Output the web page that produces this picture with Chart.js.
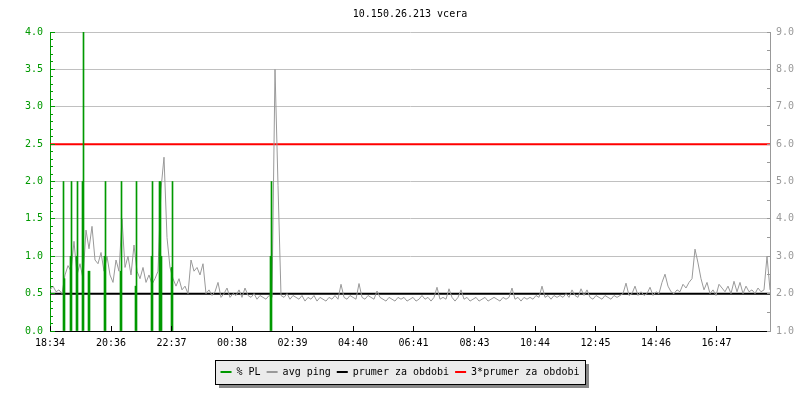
<!DOCTYPE html>
<html>
<head>
<meta charset="utf-8">
<script src="https://cdn.jsdelivr.net/npm/chart.js@4.4.1/dist/chart.umd.min.js"></script>
<style>
  body { margin: 0; background: #fff; }
  canvas { display: block; }
</style>
</head>
<body>
<canvas id="pingChart" width="800" height="400"></canvas>
<script>
// x axis is minutes since 18:34, one day long
var tickMinutes = [0, 122, 243, 364, 485, 606, 727, 849, 970, 1091, 1212, 1333];
var tickLabels = ['18:34', '20:36', '22:37', '00:38', '02:39', '04:40', '06:41', '08:43', '10:44', '12:45', '14:46', '16:47'];

// avg ping (right axis), one sample every 6 minutes
var pingStep = 6;
var pingValues = [
    2.1, 2.2, 2.05, 2.1, 2.0, 2.5, 2.75, 2.6, 3.4, 2.5,
    2.8, 2.4, 3.7, 3.2, 3.8, 2.9, 2.8, 3.1, 2.6, 3.0,
    2.5, 2.3, 2.9, 2.6, 4.0, 2.7, 3.0, 2.5, 3.3, 2.6,
    2.4, 2.7, 2.3, 2.5, 2.25, 2.4, 2.6, 4.8, 5.65, 3.5,
    2.7, 2.4, 2.2, 2.4, 2.1, 2.2, 2.0, 2.9, 2.6, 2.7,
    2.5, 2.8, 2.0, 2.1, 1.95, 2.05, 2.3, 1.9, 2.0, 2.15,
    1.9, 2.0, 1.95, 2.1, 1.9, 2.15, 1.95, 1.9, 2.0, 1.85,
    1.95, 1.9, 1.85, 1.95, 1.9, 8.0, 4.9, 1.95, 1.9, 2.0,
    1.85, 1.95, 1.9, 1.85, 1.95, 1.8, 1.9, 1.85, 1.95, 1.8,
    1.9, 1.85, 1.8, 1.9, 1.85, 1.95, 1.85, 2.25, 1.9, 1.85,
    1.95, 1.9, 1.85, 2.27, 1.9, 1.85, 1.95, 1.9, 1.85, 2.07,
    1.9, 1.85, 1.8, 1.9, 1.85, 1.8, 1.9, 1.85, 1.9, 1.8,
    1.85, 1.9, 1.8, 1.85, 1.95, 1.85, 1.9, 1.8, 1.9, 2.17,
    1.85, 1.9, 1.85, 2.13, 1.9, 1.8, 1.9, 2.1, 1.85, 1.9,
    1.8, 1.85, 1.9, 1.8, 1.85, 1.9, 1.8, 1.85, 1.9, 1.85,
    1.8, 1.9, 1.85, 1.9, 2.15, 1.85, 1.9, 1.8, 1.9, 1.85,
    1.9, 1.85, 1.95, 1.9, 2.2, 1.9, 1.95, 1.85, 1.95, 1.9,
    1.95, 1.9, 2.0, 1.9, 2.1, 1.95, 1.9, 2.13, 1.95, 2.1,
    1.9, 1.85, 1.95, 1.9, 1.85, 1.95, 1.9, 1.85, 1.95, 1.9,
    1.95, 2.0, 2.28, 1.95, 2.0, 2.2, 1.95, 2.05, 1.95, 2.0,
    2.17, 1.95, 2.05, 2.0, 2.3, 2.52, 2.2, 2.05, 2.0, 2.1,
    2.05, 2.25, 2.15, 2.3, 2.4, 3.19, 2.82, 2.4, 2.1, 2.3,
    2.0, 2.1, 1.95, 2.25, 2.15, 2.05, 2.2, 2.0, 2.33, 2.05,
    2.3, 2.0, 2.2, 2.05, 2.1, 2.0, 2.15, 2.05, 2.1, 3.0, 2.1
];

// packet loss % (left axis), only the non zero samples
var plTimes  = [27, 29, 41, 43, 53, 55, 65, 67, 77, 79, 109, 111, 141, 143, 171, 173, 203, 205, 219, 221, 223, 243, 245, 441, 443];
var plValues = [2.0, 0.7, 1.0, 2.0, 1.0, 2.0, 2.0, 4.0, 0.8, 0.8, 1.0, 2.0, 0.8, 2.0, 0.6, 2.0, 1.0, 2.0, 2.0, 2.0, 1.0, 0.85, 2.0, 1.0, 2.0];

var avgPing = 2.0;     // prumer za obdobi
var tripleAvg = 6.0;   // 3*prumer za obdobi

var plColor = '#009900';
var pingColor = '#999999';
var monoFont = { family: 'DejaVu Sans Mono', size: 10 };

function alignPx(p) {
    return Math.round(p - 0.5) + 0.5;
}

// small inward tick marks like the original graph
var innerTicks = {
    id: 'innerTicks',
    afterDraw: function(chart) {
        var ctx = chart.ctx;
        var area = chart.chartArea;
        var yl = chart.scales.y, yr = chart.scales.y1, xs = chart.scales.x;
        var k, y, x;
        ctx.save();
        ctx.lineWidth = 1;

        ctx.strokeStyle = plColor;
        ctx.beginPath();
        for (k = 0; k <= 40; k++) {
            y = alignPx(yl.getPixelForValue(k / 10));
            ctx.moveTo(area.left, y);
            ctx.lineTo(area.left + (k % 5 === 0 ? 5 : 3), y);
        }
        ctx.stroke();

        ctx.strokeStyle = pingColor;
        ctx.beginPath();
        for (k = 2; k <= 18; k++) {
            y = alignPx(yr.getPixelForValue(k / 2));
            ctx.moveTo(area.right, y);
            ctx.lineTo(area.right - 3, y);
        }
        ctx.stroke();

        ctx.strokeStyle = '#000';
        ctx.beginPath();
        xs.ticks.forEach(function(t) {
            x = alignPx(xs.getPixelForValue(t.value));
            ctx.moveTo(x, area.bottom);
            ctx.lineTo(x, area.bottom - 5);
        });
        ctx.stroke();
        ctx.restore();
    }
};

// grey box with shadow behind the legend
var legendBox = {
    id: 'legendBox',
    beforeDraw: function(chart) {
        var hb = chart.legend.legendHitBoxes;
        if (!hb || !hb.length) return;
        var last = hb[hb.length - 1];
        var left = Math.round(hb[0].left) - 5.5;
        var right = Math.round(last.left + last.width) + 6.5;
        var top = Math.round(hb[0].top) - 6.5;
        var bottom = top + 24;
        var ctx = chart.ctx;
        ctx.save();
        ctx.fillStyle = '#888888';
        ctx.fillRect(left + 3.5, top + 3.5, right - left, bottom - top);
        ctx.fillStyle = '#ebebeb';
        ctx.fillRect(left, top, right - left, bottom - top);
        ctx.strokeStyle = '#000';
        ctx.lineWidth = 1;
        ctx.strokeRect(left, top, right - left, bottom - top);
        ctx.restore();
    }
};

var pingData = pingValues.map(function(v, i) { return { x: i * pingStep, y: v }; });
var plData = plTimes.map(function(t, i) { return { x: t, y: plValues[i] }; });

new Chart(document.getElementById('pingChart').getContext('2d'), {
    type: 'line',
    data: {
        datasets: [
            {
                type: 'bar',
                label: '% PL',
                data: plData,
                yAxisID: 'y',
                backgroundColor: plColor,
                legendColor: plColor,
                barThickness: 1
            },
            {
                label: 'avg ping',
                data: pingData,
                yAxisID: 'y1',
                borderColor: pingColor,
                legendColor: pingColor,
                borderWidth: 1,
                pointRadius: 0,
                tension: 0
            },
            {
                label: 'prumer za obdobi',
                data: [{ x: 0, y: avgPing }, { x: 1440, y: avgPing }],
                yAxisID: 'y1',
                borderColor: '#000000',
                legendColor: '#000000',
                borderWidth: 2,
                pointRadius: 0
            },
            {
                label: '3*prumer za obdobi',
                data: [{ x: 0, y: tripleAvg }, { x: 1440, y: tripleAvg }],
                yAxisID: 'y1',
                borderColor: '#ff0000',
                legendColor: '#ff0000',
                borderWidth: 2,
                pointRadius: 0
            }
        ]
    },
    options: {
        responsive: false,
        animation: false,
        events: [],
        layout: { padding: { bottom: 13 } },
        scales: {
            x: {
                type: 'linear',
                min: 0,
                max: 1440,
                offset: false,
                grid: { display: false, drawTicks: false, offset: false },
                border: { color: '#000000', width: 1 },
                afterBuildTicks: function(scale) {
                    scale.ticks = tickMinutes.map(function(m) { return { value: m }; });
                },
                afterFit: function(scale) { scale.height = 30; },
                ticks: {
                    autoSkip: false,
                    maxRotation: 0,
                    padding: 6,
                    color: '#000000',
                    font: monoFont,
                    callback: function(value, index) { return tickLabels[index]; }
                }
            },
            y: {
                position: 'left',
                min: 0,
                max: 4,
                afterFit: function(scale) { scale.width = 50; },
                grid: {
                    drawTicks: false,
                    color: function(c) { return c.tick && c.tick.value === 0 ? 'rgba(0,0,0,0)' : '#c0c0c0'; }
                },
                border: { color: plColor, width: 1 },
                ticks: {
                    stepSize: 0.5,
                    padding: 7,
                    color: plColor,
                    font: monoFont,
                    callback: function(v) { return v.toFixed(1); }
                }
            },
            y1: {
                position: 'right',
                min: 1,
                max: 9,
                afterFit: function(scale) { scale.width = 30; },
                grid: { display: false, drawTicks: false },
                border: { color: pingColor, width: 1 },
                ticks: {
                    stepSize: 1,
                    padding: 6,
                    color: pingColor,
                    font: monoFont,
                    callback: function(v) { return v.toFixed(1); }
                }
            }
        },
        plugins: {
            title: {
                display: true,
                text: '10.150.26.213 vcera',
                fullSize: false,
                color: '#000000',
                font: { family: 'DejaVu Sans Mono', size: 10, weight: 'normal' },
                padding: { top: 8, bottom: 12 }
            },
            legend: {
                position: 'bottom',
                labels: {
                    usePointStyle: true,
                    pointStyleWidth: 11,
                    padding: 6,
                    color: '#000000',
                    font: monoFont,
                    generateLabels: function(chart) {
                        return chart.data.datasets.map(function(ds, i) {
                            return {
                                text: ds.label,
                                fillStyle: ds.legendColor,
                                strokeStyle: ds.legendColor,
                                lineWidth: 2,
                                pointStyle: 'line',
                                fontColor: '#000000',
                                hidden: false,
                                datasetIndex: i
                            };
                        });
                    }
                }
            },
            tooltip: { enabled: false }
        }
    },
    plugins: [innerTicks, legendBox]
});
</script>
</body>
</html>
